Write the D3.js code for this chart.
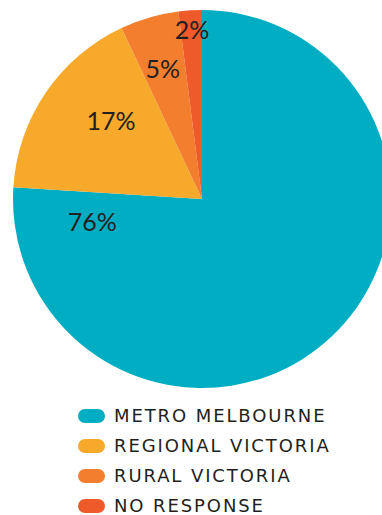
<!DOCTYPE html>
<html>
<head>
<meta charset="utf-8">
<script src="https://cdn.jsdelivr.net/npm/d3@7/dist/d3.min.js"></script>
<style>
  html, body { margin: 0; padding: 0; background: #fff; }
  svg { display: block; }
  text { fill: #231f20; }
</style>
</head>
<body>
<svg id="chart" width="382" height="515"></svg>
<script>
// Where survey respondents live
const categories = ["METRO MELBOURNE", "REGIONAL VICTORIA", "RURAL VICTORIA", "NO RESPONSE"];
const shares = [76, 17, 5, 2];
const colors = ["#00adc2", "#f6a92b", "#f37f2e", "#ee5a29"];

// Label placement in polar form (degrees clockwise from 12 o'clock, radius in px)
const labelAngles = [-101.6, -49.4, -16.8, -3.4];
const labelRadii = [112, 120, 136, 169];

const cx = 202, cy = 199, radius = 189;

const svg = d3.select("#chart");
const data = categories.map((c, i) => ({ category: c, value: shares[i], color: colors[i] }));

const pie = d3.pie().value(d => d.value).sort(null);
const arc = d3.arc().innerRadius(0).outerRadius(radius);

const g = svg.append("g").attr("transform", `translate(${cx},${cy})`);
const arcs = pie(data);

g.selectAll("path.slice")
  .data(arcs)
  .join("path")
  .attr("class", "slice")
  .attr("d", arc)
  .attr("fill", d => d.data.color);

g.selectAll("text.pct")
  .data(arcs)
  .join("text")
  .attr("class", "pct")
  .attr("x", (d, i) => labelRadii[i] * Math.sin(labelAngles[i] * Math.PI / 180))
  .attr("y", (d, i) => -labelRadii[i] * Math.cos(labelAngles[i] * Math.PI / 180))
  .attr("dy", "0.36em")
  .attr("text-anchor", "middle")
  .style("font-family", "Lato, sans-serif")
  .style("font-size", "25px")
  .style("font-weight", 400)
  .text(d => d.data.value + "%");

// Legend
const legend = svg.append("g").attr("transform", "translate(78,416)");
const row = legend.selectAll("g.item")
  .data(data)
  .join("g")
  .attr("class", "item")
  .attr("transform", (d, i) => `translate(0,${i * 30})`);

row.append("rect")
  .attr("x", 0).attr("y", -7)
  .attr("width", 27).attr("height", 14)
  .attr("rx", 7).attr("ry", 7)
  .attr("fill", d => d.color);

row.append("text")
  .attr("x", 36)
  .attr("dy", "0.36em")
  .style("font-family", "'DejaVu Sans', sans-serif")
  .style("font-size", "18px")
  .style("letter-spacing", "1.9px")
  .text(d => d.category);
</script>
</body>
</html>
